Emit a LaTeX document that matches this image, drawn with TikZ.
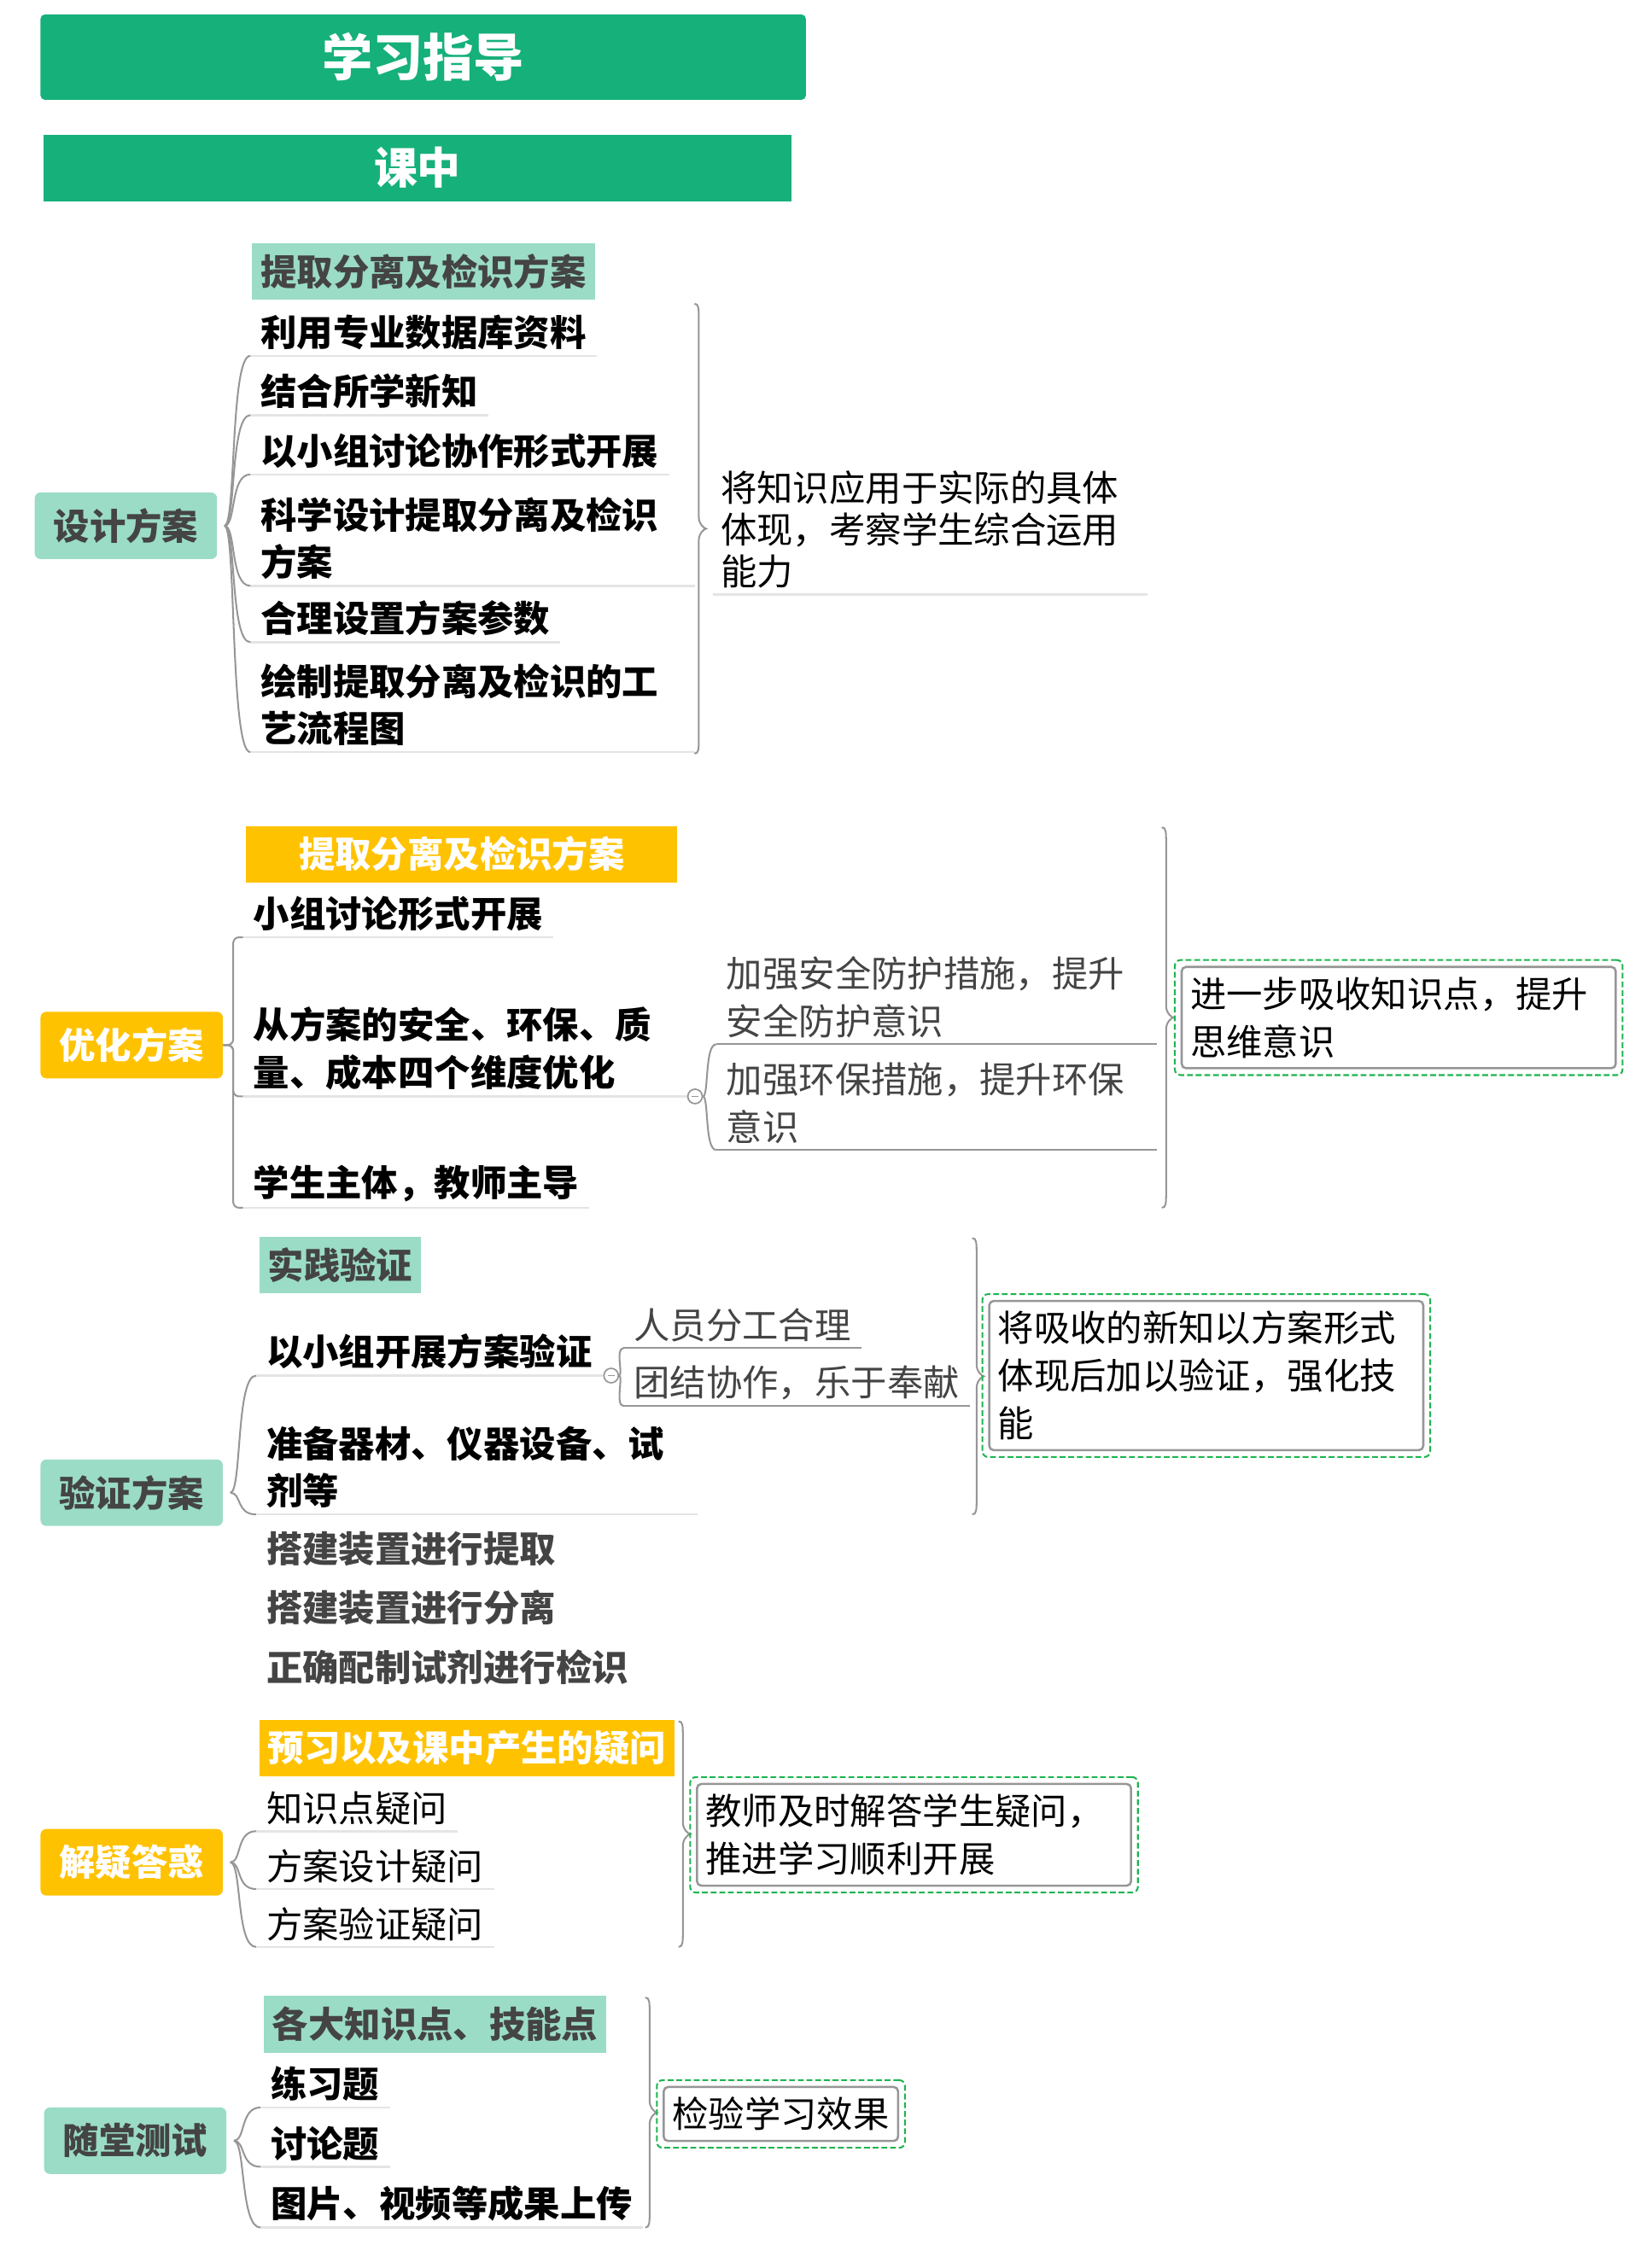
\documentclass[tikz,border=0pt]{standalone}
\usepackage{fontspec}
\setmainfont{Noto Sans CJK SC}
\usetikzlibrary{positioning, fit, calc}

\definecolor{zhugreen}{RGB}{22,176,122}
\definecolor{qingreen}{RGB}{155,220,198}
\definecolor{huang}{RGB}{255,194,0}
\definecolor{shenhui}{RGB}{68,68,68}
\definecolor{xianhui}{RGB}{150,150,150}
\definecolor{qianhui}{RGB}{228,228,228}
\definecolor{xulv}{RGB}{30,180,80}

% 右侧的大括号: #1 横坐标, #2 上端, #3 下端
\newcommand{\kuohao}[3]{%
  \draw[brace] ({#1-3},#2) .. controls (#1,#2) and (#1,{#2+3}) .. (#1,{#2+12})
    -- (#1,{(#2+#3)/2-8}) .. controls (#1,{(#2+#3)/2-3}) and ({#1+4},{(#2+#3)/2}) .. ({#1+5},{(#2+#3)/2})
    .. controls ({#1+4},{(#2+#3)/2}) and (#1,{(#2+#3)/2+3}) .. (#1,{(#2+#3)/2+8})
    -- (#1,{#3-12}) .. controls (#1,{#3-3}) and (#1,#3) .. ({#1-3},#3);}

\begin{document}
\begin{tikzpicture}[x=1pt, y=-1pt]
  % 定义样式
  \tikzset{
    zhuti/.style={fill=zhugreen, text=white, font=\bfseries\fontsize{35}{40}\selectfont,
      rounded corners=3pt, minimum width=529pt, minimum height=59pt, inner sep=0pt},
    keshi/.style={fill=zhugreen, text=white, font=\bfseries\fontsize{30}{36}\selectfont,
      minimum width=517pt, minimum height=46pt, inner sep=0pt},
    gen/.style={rounded corners=4pt, minimum width=126pt, minimum height=46pt, inner sep=0pt,
      font=\bfseries\fontsize{25}{30}\selectfont},
    genlv/.style={gen, fill=qingreen, text=shenhui},
    genhuang/.style={gen, fill=huang, text=white},
    biaoti/.style={anchor=west, inner xsep=6pt, inner ysep=0pt, minimum height=39pt,
      font=\bfseries\fontsize{25}{30}\selectfont},
    tiao/.style={anchor=south west, inner xsep=7pt, inner ysep=4pt, align=left,
      font=\bfseries\fontsize{25}{33}\selectfont},
    xi/.style={tiao, font=\fontsize{25}{33}\selectfont, text=shenhui},
    xian/.style={qianhui, line width=1.5pt},
    lian/.style={xianhui, line width=1.2pt},
    brace/.style={xianhui, line width=1.2pt},
    zongjie/.style={draw=xianhui, line width=1.5pt, rounded corners=3pt, anchor=west, align=left,
      inner xsep=6pt, inner ysep=7pt, font=\fontsize{25}{33}\selectfont},
    xukuang/.style={draw=xulv, dash pattern=on 4pt off 2pt, line width=1.2pt,
      rounded corners=4pt, inner sep=4pt},
    shou/.style={circle, draw=xianhui, fill=white, minimum size=10pt, inner sep=0pt, line width=1pt,
      path picture={\draw[xianhui] ([xshift=-2.5pt]path picture bounding box.center)
        -- ([xshift=2.5pt]path picture bounding box.center);}}
  }
  \useasboundingbox (0,0) rectangle (1138,1568);

  % 标题
  \node[zhuti] (zhuti) at (292.5,39.5) {学习指导};
  \node[keshi] (keshi) at (288.5,116) {课中};

  % ===== 设计方案 =====
  \node[genlv] (s1) at (87,363.5) {设计方案};
  \node[biaoti, fill=qingreen, text=shenhui] (s1h) at (174,187.5) {提取分离及检识方案};
  \node[tiao] (s1a) at (173,246) {利用专业数据库资料};
  \node[tiao] (s1b) at (173,287) {结合所学新知};
  \node[tiao] (s1c) at (173,328) {以小组讨论协作形式开展};
  \node[tiao, text width=293pt] (s1d) at (173,405) {科学设计提取分离及检识\\方案};
  \node[tiao] (s1e) at (173,444) {合理设置方案参数};
  \node[tiao, text width=293pt] (s1f) at (173,520) {绘制提取分离及检识的工\\艺流程图};
  \foreach \n in {s1a,s1b,s1c,s1d,s1e,s1f} {
    \draw[xian] (\n.south west) -- (\n.south east);
    \draw[lian] ([xshift=5pt]s1.east) .. controls +(8,0) and +(-14,0) .. (\n.south west);
  }
  \kuohao{483}{210}{521}
  \node[tiao, font=\fontsize{25}{29}\selectfont, text width=290pt, inner xsep=5pt] (s1s) at (493,411)
    {将知识应用于实际的具体\\体现，考察学生综合运用\\能力};
  \draw[xian] (s1s.south west) -- (s1s.south east);

  % ===== 优化方案 =====
  \node[genhuang] (s2) at (91,722.5) {优化方案};
  \node[biaoti, fill=huang, text=white, minimum width=298pt] (s2h) at (170,590.5) {提取分离及检识方案};
  \node[tiao] (s2a) at (168,648) {小组讨论形式开展};
  \node[tiao, text width=298pt] (s2b) at (168,758) {从方案的安全、环保、质\\量、成本四个维度优化};
  \node[tiao] (s2c) at (168,835) {学生主体，教师主导};
  \foreach \n in {s2a,s2b,s2c} {
    \draw[xian] (\n.south west) -- (\n.south east);
    \draw[lian, rounded corners=4pt] (s2.east) -- ++(7,0) |- (\n.south west);
  }
  \node[xi, text width=290pt] (s2d) at (495,722) {加强安全防护措施，提升\\安全防护意识};
  \node[xi, text width=290pt] (s2e) at (495,795) {加强环保措施，提升环保\\意识};
  \node[shou] (s2k) at (s2b.south east) {};
  \foreach \n in {s2d,s2e} {
    \draw[lian] (\n.south west) -- (\n.south east);
    \draw[lian] (s2k.east) .. controls +(4,0) and +(-8,0) .. (\n.south west);
  }
  \kuohao{806}{572}{835}
  \node[zongjie, text width=288pt] (s2s) at (816,703.5) {进一步吸收知识点，提升\\思维意识};
  \node[xukuang, fit=(s2s)] (s2x) {};

  % ===== 验证方案 =====
  \node[genlv] (s3) at (91,1032) {验证方案};
  \node[biaoti, fill=qingreen, text=shenhui] (s3h) at (179,874.5) {实践验证};
  \node[tiao] (s3a) at (177,951) {以小组开展方案验证};
  \node[tiao, text width=291pt] (s3b) at (177,1047) {准备器材、仪器设备、试\\剂等};
  \node[tiao, text=shenhui] (s3c) at (177,1087) {搭建装置进行提取};
  \node[tiao, text=shenhui] (s3d) at (177,1128) {搭建装置进行分离};
  \node[tiao, text=shenhui] (s3e) at (177,1169) {正确配制试剂进行检识};
  \foreach \n in {s3a,s3b} {
    \draw[xian] (\n.south west) -- (\n.south east);
    \draw[lian] ([xshift=5pt]s3.east) .. controls +(8,0) and +(-14,0) .. (\n.south west);
  }
  \node[xi] (s3f) at (431,932) {人员分工合理};
  \node[xi] (s3g) at (431,972) {团结协作，乐于奉献};
  \node[shou] (s3k) at ([xshift=6pt]s3a.south east) {};
  \foreach \n in {s3f,s3g} {
    \draw[lian] (\n.south west) -- (\n.south east);
    \draw[lian] (s3k.east) .. controls +(3,0) and +(-6,0) .. (\n.south west);
  }
  \kuohao{675}{856}{1047}
  \node[zongjie, text width=288pt] (s3s) at (683,951) {将吸收的新知以方案形式\\体现后加以验证，强化技\\能};
  \node[xukuang, fit=(s3s)] (s3x) {};

  % ===== 解疑答惑 =====
  \node[genhuang] (s4) at (91,1287.5) {解疑答惑};
  \node[biaoti, fill=huang, text=white] (s4h) at (179,1208.5) {预习以及课中产生的疑问};
  \node[tiao, font=\fontsize{25}{33}\selectfont] (s4a) at (177,1266) {知识点疑问};
  \node[tiao, font=\fontsize{25}{33}\selectfont] (s4b) at (177,1306) {方案设计疑问};
  \node[tiao, font=\fontsize{25}{33}\selectfont] (s4c) at (177,1346) {方案验证疑问};
  \foreach \n in {s4a,s4b,s4c} {
    \draw[xian] (\n.south west) -- (\n.south east);
    \draw[lian] ([xshift=5pt]s4.east) .. controls +(8,0) and +(-14,0) .. (\n.south west);
  }
  \kuohao{472}{1190}{1346}
  \node[zongjie, text width=288pt] (s4s) at (481,1268.5) {教师及时解答学生疑问，\\推进学习顺利开展};
  \node[xukuang, fit=(s4s)] (s4x) {};

  % ===== 随堂测试 =====
  \node[genlv] (s5) at (93.5,1480) {随堂测试};
  \node[biaoti, fill=qingreen, text=shenhui] (s5h) at (182,1399.5) {各大知识点、技能点};
  \node[tiao] (s5a) at (180,1457) {练习题};
  \node[tiao] (s5b) at (180,1498) {讨论题};
  \node[tiao] (s5c) at (180,1540) {图片、视频等成果上传};
  \foreach \n in {s5a,s5b,s5c} {
    \draw[xian] (\n.south west) -- (\n.south east);
    \draw[lian] ([xshift=5pt]s5.east) .. controls +(8,0) and +(-14,0) .. (\n.south west);
  }
  \kuohao{449}{1381}{1540}
  \node[zongjie] (s5s) at (458,1461.5) {检验学习效果};
  \node[xukuang, fit=(s5s)] (s5x) {};
\end{tikzpicture}
\end{document}
